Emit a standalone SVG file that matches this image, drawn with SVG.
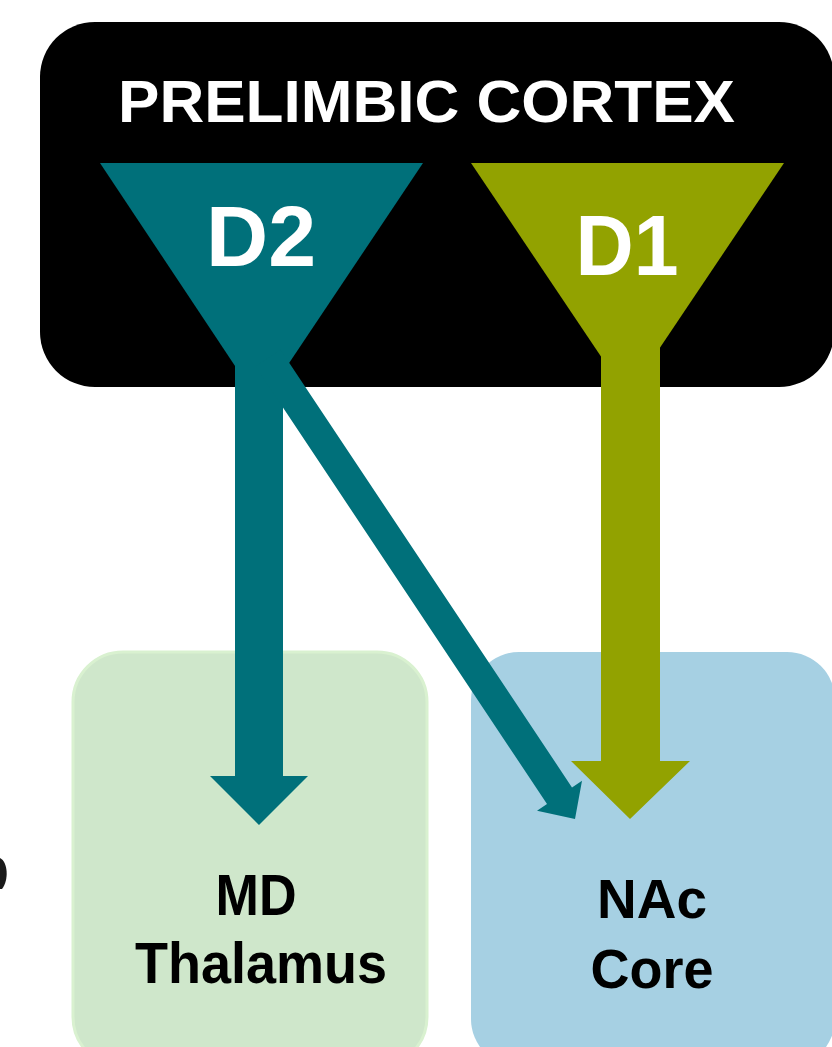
<svg xmlns="http://www.w3.org/2000/svg" width="832" height="1047" viewBox="0 0 832 1047">
  <style>
    .lbl { font-family: "Liberation Sans", Arial, Helvetica, sans-serif; font-weight: bold; text-anchor: middle; }
    .white { fill: #ffffff; }
    .dark { fill: #000000; }
    .teal { fill: #00707a; }
    .olive { fill: #92a200; }
  </style>
  <rect width="832" height="1047" fill="#ffffff"/>
  <path d="M0,858 C8,862 9,880 2,889 L0,889 Z" fill="#1a1a1a"/>

  <g id="md-thalamus">
    <rect x="73" y="652" width="354" height="415" rx="50" ry="50" fill="#cfe7cb" stroke="#d9f1d0" stroke-width="3"/>
    <text class="lbl dark" x="256" y="915" font-size="57" textLength="81" lengthAdjust="spacingAndGlyphs">MD</text>
    <text class="lbl dark" x="261" y="983" font-size="57" textLength="252" lengthAdjust="spacingAndGlyphs">Thalamus</text>
  </g>

  <g id="nac-core">
    <rect x="471" y="652" width="364" height="415" rx="48" ry="48" fill="#a6d0e3"/>
    <text class="lbl dark" x="652" y="918" font-size="56" textLength="110" lengthAdjust="spacingAndGlyphs">NAc</text>
    <text class="lbl dark" x="652" y="988" font-size="56" textLength="123" lengthAdjust="spacingAndGlyphs">Core</text>
  </g>

  <g id="prelimbic-cortex">
    <rect x="40" y="22" width="794" height="365" rx="55" ry="55" fill="#000000"/>
    <text class="lbl white" x="426.5" y="122" font-size="60" textLength="617" lengthAdjust="spacingAndGlyphs">PRELIMBIC CORTEX</text>
  </g>

  <g id="d2">
    <polygon class="teal" points="100,163 423,163 261,405"/>
  </g>

  <g id="d1">
    <polygon class="olive" points="471,163 784,163 627.5,396"/>
  </g>

  <g id="connectors">
    <polygon class="teal" points="235,300 283,300 283,776 308,776 259,825 210,776 235,776"/>
    <polygon class="olive" points="601,300 660,300 660,761 690,761 630,819 571,761 601,761"/>
    <polygon class="teal" points="280.5,349.7 572,787.4 582,780.7 575,819 537,810.7 547,804 255.5,366.3"/>
  </g>

  <g id="labels">
    <text class="lbl white" x="261" y="266" font-size="85" textLength="110" lengthAdjust="spacingAndGlyphs">D2</text>
    <text class="lbl white" x="627" y="275" font-size="85" textLength="103" lengthAdjust="spacingAndGlyphs">D1</text>
  </g>
</svg>
